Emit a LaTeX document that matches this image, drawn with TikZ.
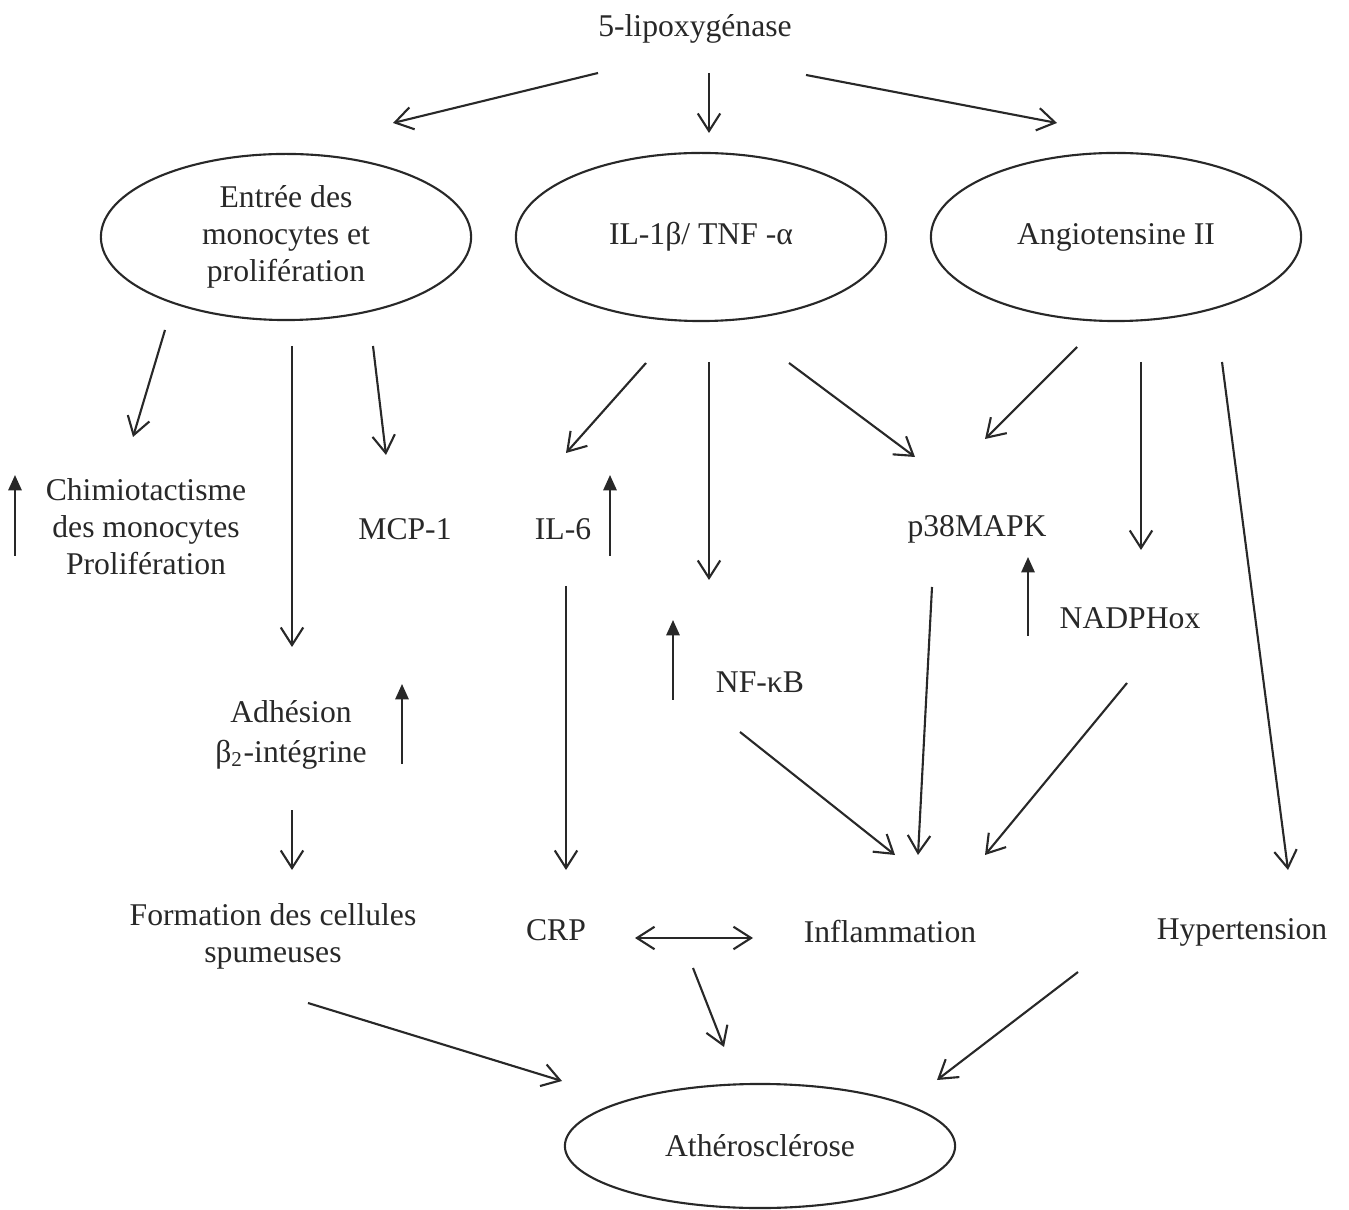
\documentclass[tikz,border=0pt]{standalone}
\usepackage{fontspec}
\setmainfont{Liberation Serif}
\usetikzlibrary{shapes.geometric,arrows.meta}
\definecolor{ink}{RGB}{40,40,40}
\tikzset{
	arr/.style={draw=ink, line width=0.6pt, -{Straight Barb[length=5pt,width=6.4pt]}},
	duo/.style={draw=ink, line width=0.6pt, {Straight Barb[length=5pt,width=6.4pt]}-{Straight Barb[length=5pt,width=6.4pt]}},
	uparr/.style={draw=ink, line width=0.6pt, -{Triangle[length=4.4pt,width=3.8pt]}},
	ell/.style={ellipse, draw=ink, line width=0.6pt, inner sep=0pt},
	lbl/.style={text=ink, align=center, font=\fontsize{9}{10.5}\selectfont, inner sep=0pt}
}
\begin{document}
\begin{tikzpicture}[x=0.01cm, y=-0.01cm]
		\useasboundingbox (0,0) rectangle (1349,1210);

		\node[lbl] (lipo) at (695,29) {5-lipoxygénase};

		\node[lbl, ell, minimum width=3.7cm, minimum height=1.66cm] (e1) at (286,237) {Entrée des\\monocytes et\\prolifération};
		\node[lbl, ell, minimum width=3.7cm, minimum height=1.68cm] (e2) at (701,237) {IL-1β/ TNF -α};
		\node[lbl, ell, minimum width=3.7cm, minimum height=1.68cm] (e3) at (1116,237) {Angiotensine II};

		\node[lbl] (chim) at (146,527) {Chimiotactisme\\des monocytes\\Prolifération};
		\node[lbl] (mcp) at (405,529) {MCP-1};
		\node[lbl] (il6) at (563,529) {IL-6};
		\node[lbl] (p38) at (977,529) {p38MAPK};
		\node[lbl] (nadph) at (1130,618) {NADPHox};
		\node[lbl] (nfkb) at (760,682) {NF-κB};
		\node[lbl] (adh) at (291,735) {Adhésion\\[1pt]β\textsubscript{2}-intégrine};

		\node[lbl] (form) at (273,936) {Formation des cellules\\spumeuses};
		\node[lbl] (crp) at (556,930) {CRP};
		\node[lbl] (infl) at (890,932) {Inflammation};
		\node[lbl] (hyper) at (1242,932) {Hypertension};

		\node[lbl, ell, minimum width=3.9cm, minimum height=1.24cm] (ath) at (760,1146) {Athérosclérose};

		% from 5-lipoxygenase
		\draw[arr] ([shift={(-97,44)}]lipo.center) -- ([shift={(107,-114)}]e1.center);
		\draw[arr] ([shift={(14,44)}]lipo.center) -- ([shift={(8,-104)}]e2.center);
		\draw[arr] ([shift={(111,46)}]lipo.center) -- ([shift={(-59,-114)}]e3.center);

		% monocytes
		\draw[arr] ([shift={(-121,93)}]e1.center) -- ([shift={(-13,-90)}]chim.center);
		\draw[arr] ([shift={(6,109)}]e1.center) -- ([shift={(1,-88)}]adh.center);
		\draw[arr] ([shift={(87,109)}]e1.center) -- ([shift={(-19,-74)}]mcp.center);
		\draw[arr] ([shift={(1,75)}]adh.center) -- ([shift={(19,-66)}]form.center);

		% IL-1 / TNF
		\draw[arr] ([shift={(-55,126)}]e2.center) -- ([shift={(3,-76)}]il6.center);
		\draw[arr] ([shift={(8,125)}]e2.center) -- ([shift={(-51,-102)}]nfkb.center);
		\draw[arr] ([shift={(88,126)}]e2.center) -- ([shift={(-62,-72)}]p38.center);
		\draw[arr] ([shift={(3,57)}]il6.center) -- ([shift={(10,-60)}]crp.center);

		% angiotensine
		\draw[arr] ([shift={(-39,110)}]e3.center) -- ([shift={(8,-90)}]p38.center);
		\draw[arr] ([shift={(25,125)}]e3.center) -- ([shift={(11,-68)}]nadph.center);
		\draw[arr] ([shift={(106,125)}]e3.center) -- ([shift={(46,-62)}]hyper.center);

		% inflammation
		\draw[arr] ([shift={(-45,58)}]p38.center) -- ([shift={(28,-77)}]infl.center);
		\draw[arr] ([shift={(-20,50)}]nfkb.center) -- ([shift={(5,-77)}]infl.center);
		\draw[arr] ([shift={(-3,65)}]nadph.center) -- ([shift={(95,-77)}]infl.center);
		\draw[duo] ([shift={(79,8)}]crp.center) -- ([shift={(-137,6)}]infl.center);

		% atherosclerose
		\draw[arr] ([shift={(35,67)}]form.center) -- ([shift={(-198,-65)}]ath.center);
		\draw[arr] ([shift={(137,38)}]crp.center) -- ([shift={(-36,-99)}]ath.center);
		\draw[arr] ([shift={(-164,40)}]hyper.center) -- ([shift={(177,-66)}]ath.center);

		% increase
		\draw[uparr] ([shift={(-131,29)}]chim.center) -- ([shift={(-131,-52)}]chim.center);
		\draw[uparr] ([shift={(47,27)}]il6.center) -- ([shift={(47,-54)}]il6.center);
		\draw[uparr] ([shift={(-87,18)}]nfkb.center) -- ([shift={(-87,-62)}]nfkb.center);
		\draw[uparr] ([shift={(-102,18)}]nadph.center) -- ([shift={(-102,-61)}]nadph.center);
		\draw[uparr] ([shift={(111,29)}]adh.center) -- ([shift={(111,-51)}]adh.center);
	\end{tikzpicture}
\end{document}
